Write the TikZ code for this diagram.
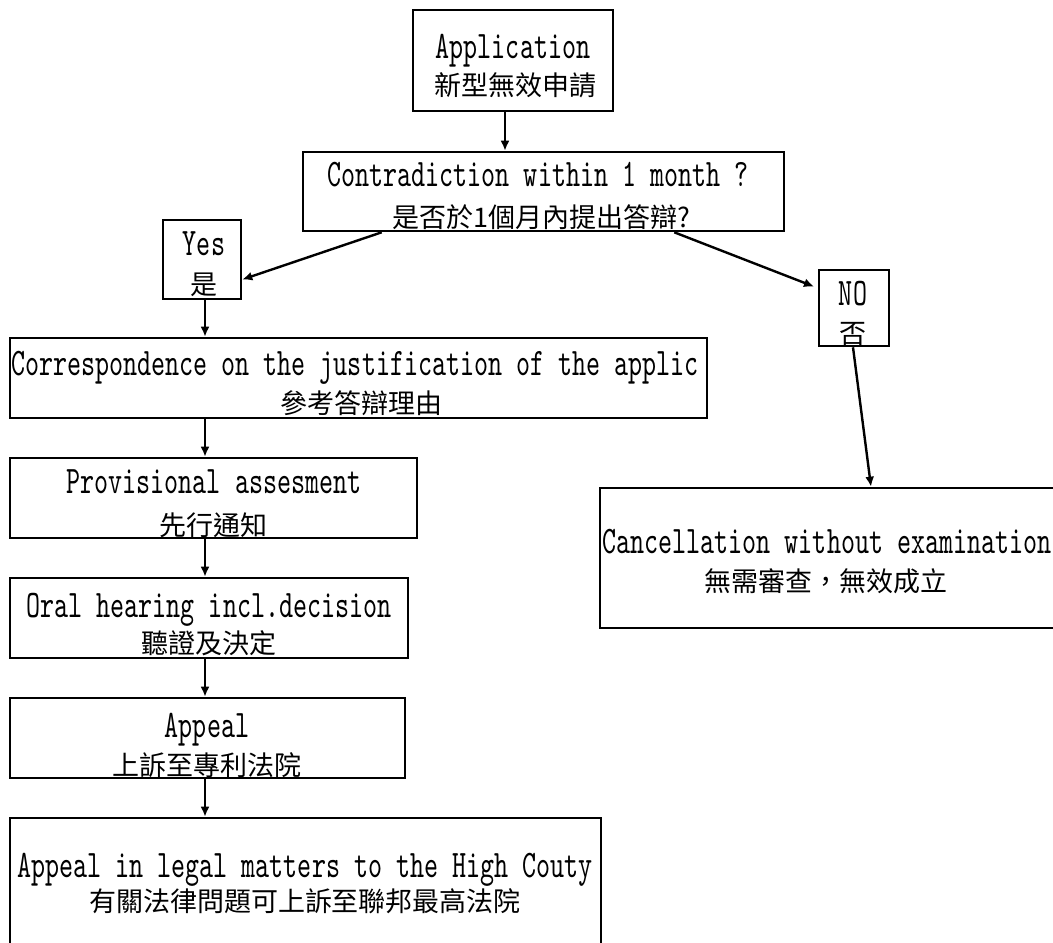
\documentclass[tikz,border=0pt]{standalone}
\usepackage{fontspec}
\usetikzlibrary{arrows.meta,calc}
\newfontfamily\latmono{lmmono10-regular.otf}[FakeStretch=0.685]
\newfontfamily\hanfont{Noto Sans CJK TC}
\tikzset{
  box/.style={draw, line width=2.6pt, rectangle, inner sep=0pt},
  latin/.style={font=\latmono\fontsize{39pt}{39pt}\selectfont, anchor=base, inner sep=0pt},
  han/.style={font=\hanfont\fontsize{27pt}{27pt}\selectfont, anchor=base, inner sep=0pt},
  arr/.style={line width=2.4pt, -{Latex[length=10pt,width=9pt]}},
}
\begin{document}
\begin{tikzpicture}[x=1pt, y=-1pt]
\useasboundingbox (0,0) rectangle (1053,943);
\fill[white] (0,0) rectangle (1053,943);
\begin{scope}
\clip (0,0) rectangle (1053,943);

% boxes
\node[box, minimum width=200pt, minimum height=101pt] (app) at (513,60.5) {};
\node[box, minimum width=481pt, minimum height=79pt] (contra) at (543.5,191.5) {};
\node[box, minimum width=78pt, minimum height=79pt] (yes) at (202,259.5) {};
\node[box, minimum width=70pt, minimum height=76pt] (no) at (854,308) {};
\node[box, minimum width=697pt, minimum height=80pt] (corr) at (358.5,378) {};
\node[box, minimum width=407pt, minimum height=80pt] (prov) at (213.5,498) {};
\node[box, minimum width=398pt, minimum height=80pt] (oral) at (209,618) {};
\node[box, minimum width=395pt, minimum height=80pt] (appeal) at (207.5,738) {};
\node[box, minimum width=591pt, minimum height=142pt] (high) at (305.5,889) {};
\node[box, minimum width=460pt, minimum height=140pt] (cancel) at (830,558) {};

% texts
\node[latin] (appL) at (513,58) {Application};
\node[han] (appH) at (515,95) {新型無效申請};
\node[latin] (contraL) at (538,186) {Contradiction within 1 month ?};
\node[han] (contraH) at (541,227) {是否於1個月內提出答辯?};
\node[latin] (yesL) at (204,255) {Yes};
\node[han] (yesH) at (204,294) {是};
\node[latin] (noL) at (853,305) {NO};
\node[han] (noH) at (853,343) {否};
\node[latin] (corrL) at (355,375) {Correspondence on the justification of the applic};
\node[han] (corrH) at (361,413) {參考答辯理由};
\node[latin] (provL) at (214,493) {Provisional assesment};
\node[han] (provH) at (213,535) {先行通知};
\node[latin] (oralL) at (209,617) {Oral hearing incl.decision};
\node[han] (oralH) at (209,653) {聽證及決定};
\node[latin] (appealL) at (207,737) {Appeal};
\node[han] (appealH) at (207,775) {上訴至專利法院};
\node[latin] (highL) at (305,877) {Appeal in legal matters to the High Couty};
\node[han] (highH) at (305,911) {有關法律問題可上訴至聯邦最高法院};
\node[latin] (cancelL) at (827,553) {Cancellation without examination};
\node[han] (cancelH) at (826,591) {無需審查，無效成立};

% connectors
\draw[arr] ([xshift=-8pt]app.south) -- ([xshift=-38.5pt]contra.north);
\draw[arr] ([xshift=80pt]contra.south west) -- ([yshift=-20pt]yes.east);
\draw[arr, shorten >=4pt] ([xshift=-111pt]contra.south east) -- ([yshift=20pt]no.west);
\draw[arr] ([xshift=-1pt]no.south) -- ([xshift=41pt]cancel.north);
\draw[arr] ([xshift=3pt]yes.south) -- ([xshift=-153.5pt]corr.north);
\draw[arr] ([xshift=-153.5pt]corr.south) -- ([xshift=-8.5pt]prov.north);
\draw[arr] ([xshift=-8.5pt]prov.south) -- ([xshift=-4pt]oral.north);
\draw[arr] ([xshift=-4pt]oral.south) -- ([xshift=-2.5pt]appeal.north);
\draw[arr] ([xshift=-2.5pt]appeal.south) -- ([xshift=-100.5pt]high.north);
\end{scope}
\end{tikzpicture}
\end{document}
